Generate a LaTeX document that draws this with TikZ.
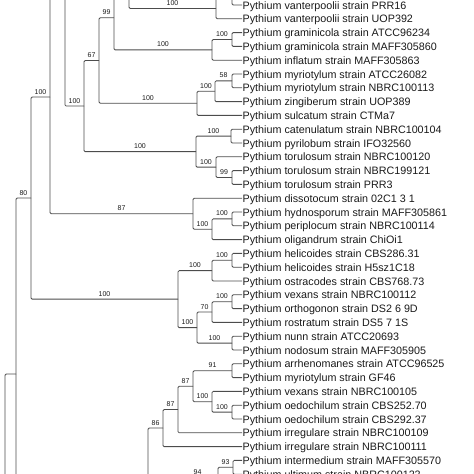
\documentclass[tikz,border=0pt]{standalone}
\usepackage{fontspec}
\setmainfont{Liberation Sans}
\usetikzlibrary{calc}
\definecolor{brc}{HTML}{4C4C4C}
\definecolor{txc}{HTML}{1A1A1A}
\begin{document}
\begin{tikzpicture}[x=1pt,y=-1pt,
  br/.style={draw=brc, line width=0.85pt, rounded corners=1.2pt},
  leaf/.style={anchor=west, inner sep=0.5pt, text height=8pt, text depth=0pt,
    font=\fontsize{10.75}{12}\selectfont, text=txc},
  bs/.style={anchor=base, inner sep=0pt, font=\fontsize{7}{8}\selectfont, text=txc, yshift=3pt}]
\useasboundingbox (0,0) rectangle (474,474);
\clip (0,0) rectangle (474,474);
% ---- leaves ----
\coordinate (lm1) at (242,-8.8);
\node[leaf] (l0) at (242,5) {Pythium vanterpoolii strain PRR16};
\node[leaf] (l1) at (242,18.8) {Pythium vanterpoolii strain UOP392};
\node[leaf] (l2) at (242,32.6) {Pythium graminicola strain ATCC96234};
\node[leaf] (l3) at (242,46.4) {Pythium graminicola strain MAFF305860};
\node[leaf] (l4) at (242,60.2) {Pythium inflatum strain MAFF305863};
\node[leaf] (l5) at (242,74) {Pythium myriotylum strain ATCC26082};
\node[leaf] (l6) at (242,87.8) {Pythium myriotylum strain NBRC100113};
\node[leaf] (l7) at (242,101.6) {Pythium zingiberum strain UOP389};
\node[leaf] (l8) at (242,115.4) {Pythium sulcatum strain CTMa7};
\node[leaf] (l9) at (242,129.2) {Pythium catenulatum strain NBRC100104};
\node[leaf] (l10) at (242,143) {Pythium pyrilobum strain IFO32560};
\node[leaf] (l11) at (242,156.8) {Pythium torulosum strain NBRC100120};
\node[leaf] (l12) at (242,170.6) {Pythium torulosum strain NBRC199121};
\node[leaf] (l13) at (242,184.4) {Pythium torulosum strain PRR3};
\node[leaf] (l14) at (242,198.2) {Pythium dissotocum strain 02C1 3 1};
\node[leaf] (l15) at (242,212) {Pythium hydnosporum strain MAFF305861};
\node[leaf] (l16) at (242,225.8) {Pythium periplocum strain NBRC100114};
\node[leaf] (l17) at (242,239.6) {Pythium oligandrum strain ChiOi1};
\node[leaf] (l18) at (242,253.4) {Pythium helicoides strain CBS286.31};
\node[leaf] (l19) at (242,267.2) {Pythium helicoides strain H5sz1C18};
\node[leaf] (l20) at (242,281) {Pythium ostracodes strain CBS768.73};
\node[leaf] (l21) at (242,294.8) {Pythium vexans strain NBRC100112};
\node[leaf] (l22) at (242,308.6) {Pythium orthogonon strain DS2 6 9D};
\node[leaf] (l23) at (242,322.4) {Pythium rostratum strain DS5 7 1S};
\node[leaf] (l24) at (242,336.2) {Pythium nunn strain ATCC20693};
\node[leaf] (l25) at (242,350) {Pythium nodosum strain MAFF305905};
\node[leaf] (l26) at (242,363.8) {Pythium arrhenomanes strain ATCC96525};
\node[leaf] (l27) at (242,377.6) {Pythium myriotylum strain GF46};
\node[leaf] (l28) at (242,391.4) {Pythium vexans strain NBRC100105};
\node[leaf] (l29) at (242,405.2) {Pythium oedochilum strain CBS252.70};
\node[leaf] (l30) at (242,419) {Pythium oedochilum strain CBS292.37};
\node[leaf] (l31) at (242,432.8) {Pythium irregulare strain NBRC100109};
\node[leaf] (l32) at (242,446.6) {Pythium irregulare strain NBRC100111};
\node[leaf] (l33) at (242,460.4) {Pythium intermedium strain MAFF305570};
\node[leaf] (l34) at (242,474.2) {Pythium ultimum strain NBRC100122};
\coordinate (l35) at (242,488);
% ---- internal nodes ----
\coordinate (A) at (232,-1.9);
\coordinate (B) at (216,8.45);
\coordinate (Cu) at (150,-37.3);
\coordinate (C) at (129,-14.4);
\coordinate (D) at (114,17.7);
\coordinate (E) at (99,60.5);
\coordinate (F) at (212,49.85);
\coordinate (G) at (232,39.5);
\coordinate (H) at (197,103.3);
\coordinate (I) at (232,80.9);
\coordinate (J) at (215,91.25);
\coordinate (Ku) at (80,-145.5);
\coordinate (K) at (65,-19.7);
\coordinate (L) at (84,106.05);
\coordinate (M) at (196,151.6);
\coordinate (N) at (231,136.1);
\coordinate (O) at (216,167.15);
\coordinate (P) at (232,177.5);
\coordinate (Q) at (50,97);
\coordinate (R) at (193,213.7);
\coordinate (S) at (232,218.9);
\coordinate (T) at (212,229.25);
\coordinate (U) at (31,198.05);
\coordinate (V) at (178,299.1);
\coordinate (X) at (232,260.3);
\coordinate (Y) at (212,270.65);
\coordinate (Z) at (232,301.7);
\coordinate (AA) at (212,312.05);
\coordinate (AB) at (232,343.1);
\coordinate (AC) at (197,327.6);
\coordinate (W) at (16,374);
\coordinate (Wb) at (31,550);
\coordinate (R0) at (5,600);
\coordinate (AD) at (232,370.7);
\coordinate (AE) at (232,412.1);
\coordinate (AG) at (212,401.75);
\coordinate (AF) at (193,386.2);
\coordinate (AH) at (178,409.5);
\coordinate (AI) at (163,428.05);
\coordinate (AJ) at (148,500);
\coordinate (AK) at (233,467.3);
\coordinate (AL) at (218,477.65);
\coordinate (AM) at (177,530);
% ---- branches ----
\draw[br] (A) |- (lm1);  \draw[br] (A) |- (l0);
\draw[br] (B) |- (A);    \draw[br] (B) |- (l1);
\draw[br] (C) |- (Cu);   \draw[br] (C) |- (B);
\draw[br] (D) |- (C);    \draw[br] (D) |- (F);
\draw[br] (G) |- (l2);   \draw[br] (G) |- (l3);
\draw[br] (F) |- (G);    \draw[br] (F) |- (l4);
\draw[br] (I) |- (l5);   \draw[br] (I) |- (l6);
\draw[br] (J) |- (I);    \draw[br] (J) |- (l7);
\draw[br] (H) |- (J);    \draw[br] (H) |- (l8);
\draw[br] (E) |- (D);    \draw[br] (E) |- (H);
\draw[br] (N) |- (l9);   \draw[br] (N) |- (l10);
\draw[br] (P) |- (l12);  \draw[br] (P) |- (l13);
\draw[br] (O) |- (l11);  \draw[br] (O) |- (P);
\draw[br] (M) |- (N);    \draw[br] (M) |- (O);
\draw[br] (L) |- (E);    \draw[br] (L) |- (M);
\draw[br] (K) |- (Ku);   \draw[br] (K) |- (L);
\draw[br] (S) |- (l15);  \draw[br] (S) |- (l16);
\draw[br] (T) |- (S);    \draw[br] (T) |- (l17);
\draw[br] (R) |- (l14);  \draw[br] (R) |- (T);
\draw[br] (Q) |- (K);    \draw[br] (Q) |- (R);
\draw[br] (X) |- (l18);  \draw[br] (X) |- (l19);
\draw[br] (Y) |- (X);    \draw[br] (Y) |- (l20);
\draw[br] (Z) |- (l21);  \draw[br] (Z) |- (l22);
\draw[br] (AA) |- (Z);   \draw[br] (AA) |- (l23);
\draw[br] (AB) |- (l24); \draw[br] (AB) |- (l25);
\draw[br] (AC) |- (AA);  \draw[br] (AC) |- (AB);
\draw[br] (V) |- (Y);    \draw[br] (V) |- (AC);
\draw[br] (U) |- (Q);    \draw[br] (U) |- (V);
\draw[br] (W) |- (U);    \draw[br] (W) |- (Wb);
\draw[br] (R0) |- (W);
\draw[br] (AD) |- (l26); \draw[br] (AD) |- (l27);
\draw[br] (AE) |- (l29); \draw[br] (AE) |- (l30);
\draw[br] (AG) |- (l28); \draw[br] (AG) |- (AE);
\draw[br] (AF) |- (AD);  \draw[br] (AF) |- (AG);
\draw[br] (AH) |- (AF);  \draw[br] (AH) |- (l31);
\draw[br] (AI) |- (AH);  \draw[br] (AI) |- (l32);
\draw[br] (AJ) |- (AI);
\draw[br] (AK) |- (l33); \draw[br] (AK) |- (l34);
\draw[br] (AL) |- (AK);  \draw[br] (AL) |- (l35);
\draw[br] (AM) |- (AL);
% ---- bootstrap values ----
\node[bs] (bB) at ($(C |- B)!0.5!(B)$) {100};
\node[bs] (bD) at ($(E |- D)!0.5!(D)$) {99};
\node[bs] (bF) at ($(D |- F)!0.5!(F)$) {100};
\node[bs] (bG) at ($(F |- G)!0.5!(G)$) {100};
\node[bs] (bE) at ($(L |- E)!0.5!(E)$) {67};
\node[bs] (bH) at ($(E |- H)!0.5!(H)$) {100};
\node[bs] (bJ) at ($(H |- J)!0.5!(J)$) {100};
\node[bs] (bI) at ($(J |- I)!0.5!(I)$) {58};
\node[bs] (bQ) at ($(U |- Q)!0.5!(Q)$) {100};
\node[bs] (bL) at ($(K |- L)!0.5!(L)$) {100};
\node[bs] (bM) at ($(L |- M)!0.5!(M)$) {100};
\node[bs] (bN) at ($(M |- N)!0.5!(N)$) {100};
\node[bs] (bO) at ($(M |- O)!0.5!(O)$) {100};
\node[bs] (bP) at ($(O |- P)!0.5!(P)$) {99};
\node[bs] (bU) at ($(W |- U)!0.5!(U)$) {80};
\node[bs] (bR) at ($(Q |- R)!0.5!(R)$) {87};
\node[bs] (bS) at ($(T |- S)!0.5!(S)$) {100};
\node[bs] (bT) at ($(R |- T)!0.5!(T)$) {100};
\node[bs] (bV) at ($(U |- V)!0.5!(V)$) {100};
\node[bs] (bY) at ($(V |- Y)!0.5!(Y)$) {100};
\node[bs] (bX) at ($(Y |- X)!0.5!(X)$) {100};
\node[bs] (bAC) at ($(V |- AC)!0.5!(AC)$) {100};
\node[bs] (bAA) at ($(AC |- AA)!0.5!(AA)$) {70};
\node[bs] (bZ) at ($(AA |- Z)!0.5!(Z)$) {100};
\node[bs] (bAB) at ($(AC |- AB)!0.5!(AB)$) {100};
\node[bs] (bAD) at ($(AF |- AD)!0.5!(AD)$) {91};
\node[bs] (bAG) at ($(AF |- AG)!0.5!(AG)$) {100};
\node[bs] (bAE) at ($(AG |- AE)!0.5!(AE)$) {100};
\node[bs] (bAF) at ($(AH |- AF)!0.5!(AF)$) {87};
\node[bs] (bAH) at ($(AI |- AH)!0.5!(AH)$) {87};
\node[bs] (bAI) at ($(AJ |- AI)!0.5!(AI)$) {86};
\node[bs] (bAK) at ($(AL |- AK)!0.5!(AK)$) {93};
\node[bs] (bAL) at ($(AM |- AL)!0.5!(AL)$) {94};
\end{tikzpicture}
\end{document}
